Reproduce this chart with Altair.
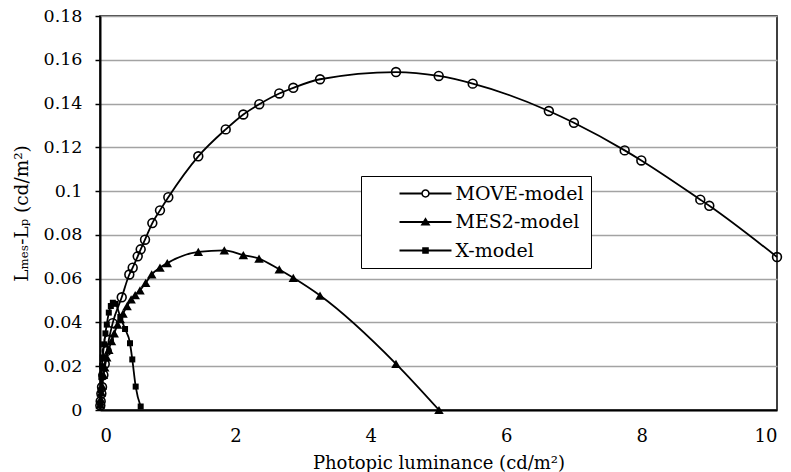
import altair as alt
import pandas as pd

models = ["MOVE-model", "MES2-model", "X-model"]

move_x = [0.005, 0.01, 0.02, 0.03, 0.05, 0.07, 0.1, 0.13, 0.187, 0.321, 0.433, 0.483,
          0.557, 0.601, 0.665, 0.773, 0.886, 1.009, 1.452, 1.857, 2.117, 2.353, 2.648,
          2.855, 3.25, 4.372, 5.003, 5.505, 6.63, 7.0, 7.75, 7.996, 8.867, 9.0, 10.0]
move_y = [0.002, 0.004, 0.0075, 0.0105, 0.016, 0.021, 0.027, 0.032, 0.0397, 0.0515,
          0.0619, 0.065, 0.0702, 0.0734, 0.0778, 0.0854, 0.0912, 0.0972, 0.1159, 0.1282,
          0.135, 0.1397, 0.1446, 0.1472, 0.1511, 0.1544, 0.1526, 0.1491, 0.1366, 0.1312,
          0.1186, 0.1140, 0.0961, 0.0933, 0.0699]

mes2_x = [0.005, 0.01, 0.02, 0.03, 0.05, 0.07, 0.1, 0.13, 0.17, 0.21, 0.26, 0.3, 0.34,
          0.4, 0.46, 0.52, 0.591, 0.675, 0.764, 0.886, 0.994, 1.452, 1.836, 2.117, 2.349,
          2.648, 2.855, 3.25, 4.372, 5.007]
mes2_y = [0.0025, 0.005, 0.008, 0.011, 0.016, 0.0195, 0.024, 0.0275, 0.0315, 0.035,
          0.039, 0.0415, 0.044, 0.0475, 0.0505, 0.0525, 0.0547, 0.0581, 0.062, 0.065,
          0.0671, 0.0722, 0.0729, 0.0708, 0.0692, 0.0642, 0.0604, 0.0523, 0.0211, 0.0]

xm_x = [0.003, 0.01, 0.02, 0.03, 0.04, 0.06, 0.08, 0.1, 0.13, 0.16, 0.19, 0.23, 0.3,
        0.37, 0.443, 0.477, 0.527, 0.601]
xm_y = [0.003, 0.009, 0.015, 0.02, 0.024, 0.03, 0.035, 0.039, 0.0445, 0.0475, 0.049,
        0.0485, 0.0425, 0.037, 0.0305, 0.0231, 0.0107, 0.0016]

x_ticks = [0, 2, 4, 6, 8, 10]
y_ticks = [0, 0.02, 0.04, 0.06, 0.08, 0.1, 0.12, 0.14, 0.16, 0.18]

frames = []
for name, xs, ys in [(models[0], move_x, move_y), (models[1], mes2_x, mes2_y),
                     (models[2], xm_x, xm_y)]:
    frames.append(pd.DataFrame({"model": name, "lp": xs, "diff": ys}))
df = pd.concat(frames, ignore_index=True)

FONT = "DejaVu Serif"

# legend symbols drawn entirely as filled shapes: line bar + marker
legend_paths = [
    "M-2.6,-0.09H-0.4V0.09H-2.6Z M0.4,-0.09H2.6V0.09H0.4Z "
    "M0.42,0A0.42,0.42 0 1,1 -0.42,0A0.42,0.42 0 1,1 0.42,0Z "
    "M0.27,0A0.27,0.27 0 1,0 -0.27,0A0.27,0.27 0 1,0 0.27,0Z",
    "M-2.6,-0.09H2.6V0.09H-2.6Z M-0.5,0.35L0,-0.48L0.5,0.35Z",
    "M-2.6,-0.09H2.6V0.09H-2.6Z M-0.33,-0.33H0.33V0.33H-0.33Z",
]

x_enc = alt.X(
    "lp:Q",
    scale=alt.Scale(domain=[0, 10], nice=False, zero=False),
    axis=alt.Axis(
        values=x_ticks, format="d", grid=False, ticks=False, tickSize=0,
        labelPadding=17, domainColor="black", domainWidth=2,
        labelFont=FONT, labelFontSize=18, labelColor="black",
        title="Photopic luminance (cd/m²)", titleFont=FONT, titleFontSize=18,
        titleFontWeight="normal", titleColor="black",
        titleX=338.5, titleY=58, titleBaseline="alphabetic", titleAlign="center",
    ),
)
y_enc = alt.Y(
    "diff:Q",
    scale=alt.Scale(domain=[0, 0.18], nice=False),
    axis=alt.Axis(
        values=y_ticks, format="~g", grid=True, gridColor="#a3a3a3", gridWidth=1.5,
        tickSize=5, tickColor="black", tickWidth=1.5, labelPadding=13,
        domainColor="black", domainWidth=2,
        labelFont=FONT, labelFontSize=17.5, labelColor="black",
        title="Lₘₑₛ-Lₚ (cd/m²)", titleFont=FONT, titleFontSize=18.5,
        titleFontWeight="normal", titleColor="black",
        titleAngle=-90, titleX=-79, titleY=197, titleBaseline="middle",
        titleAlign="center",
    ),
)

base = alt.Chart(df)

lines = base.mark_line(color="black", strokeWidth=1.8, interpolate="monotone").encode(
    x=x_enc, y=y_enc, detail="model:N"
)

pts_move = base.transform_filter(alt.datum.model == models[0]).mark_point(
    shape="circle", filled=False, color="black", size=78, strokeWidth=1.6, opacity=1
).encode(x=x_enc, y=y_enc)

pts_mes2 = base.transform_filter(alt.datum.model == models[1]).mark_point(
    shape="triangle-up", filled=True, color="black", size=90, opacity=1
).encode(x=x_enc, y=y_enc)

pts_x = base.transform_filter(alt.datum.model == models[2]).mark_point(
    shape="square", filled=True, color="black", size=36, opacity=1
).encode(x=x_enc, y=y_enc)

legend_layer = base.mark_point(
    filled=True, color="black", opacity=0
).encode(
    x=x_enc, y=y_enc,
    shape=alt.Shape(
        "model:N",
        scale=alt.Scale(domain=models, range=legend_paths),
        legend=alt.Legend(
            title=None, orient="none", legendX=261, legendY=160,
            padding=7.5, rowPadding=8.5, symbolSize=400, symbolOffset=47,
            labelOffset=20, symbolStrokeWidth=0, symbolOpacity=1,
            symbolFillColor="black",
            labelFont=FONT, labelFontSize=19, labelColor="black", labelLimit=0,
            labelExpr="datum.label + '\u00a0\u00a0\u00a0\u00a0\u00a0\u00a0\u00a0\u00a0\u00a0'",
            strokeColor="black", fillColor="white",
        ),
    ),
)

chart = alt.layer(lines, pts_move, pts_mes2, pts_x, legend_layer).properties(
    width=677, height=394,
    autosize=alt.AutoSizeParams(type="none"),
    padding={"left": 100, "top": 16, "right": 14, "bottom": 62},
    background="white",
).configure_view(stroke="black", strokeWidth=1.5)

chart.save("out.html", embed_options={"renderer": "svg", "actions": False})
